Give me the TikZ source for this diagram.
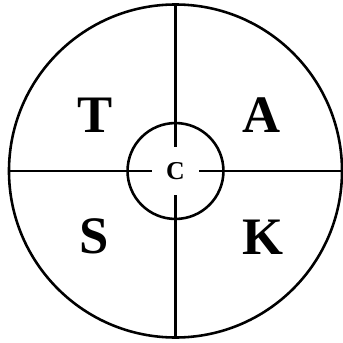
\documentclass[tikz,border=0pt]{standalone}
\usepackage{fontspec}
\setmainfont{Liberation Serif}
\usetikzlibrary{positioning}

\begin{document}
\begin{tikzpicture}[line width=2.2pt,
    letter/.style={font=\bfseries\fontsize{45}{45}\selectfont, inner sep=0pt},
    core/.style={font=\bfseries\fontsize{22}{22}\selectfont, inner sep=0pt}]
        \useasboundingbox (-5.27cm, -5.165cm) rectangle (5.03cm, 5.135cm);
        \draw (0,0) circle (5cm);
        \draw (0,0) circle (1.44cm);
        % cross, broken round the centre
        \draw (0, 5cm) -- (0, 0.72cm);
        \draw (0, -5cm) -- (0, -0.72cm);
        \draw (-5cm, 0) -- (-0.72cm, 0);
        \draw (5cm, 0) -- (0.72cm, 0);

        \node[core] (c) at (0, 0) {C};
        \node[letter] (t) at (-2.43cm, 1.68cm) {T};
        \node[letter] (a) at (2.57cm, 1.68cm) {A};
        \node[letter] (s) at (-2.43cm, -1.95cm) {S};
        \node[letter] (k) at (2.62cm, -1.98cm) {K};
    \end{tikzpicture}
\end{document}
